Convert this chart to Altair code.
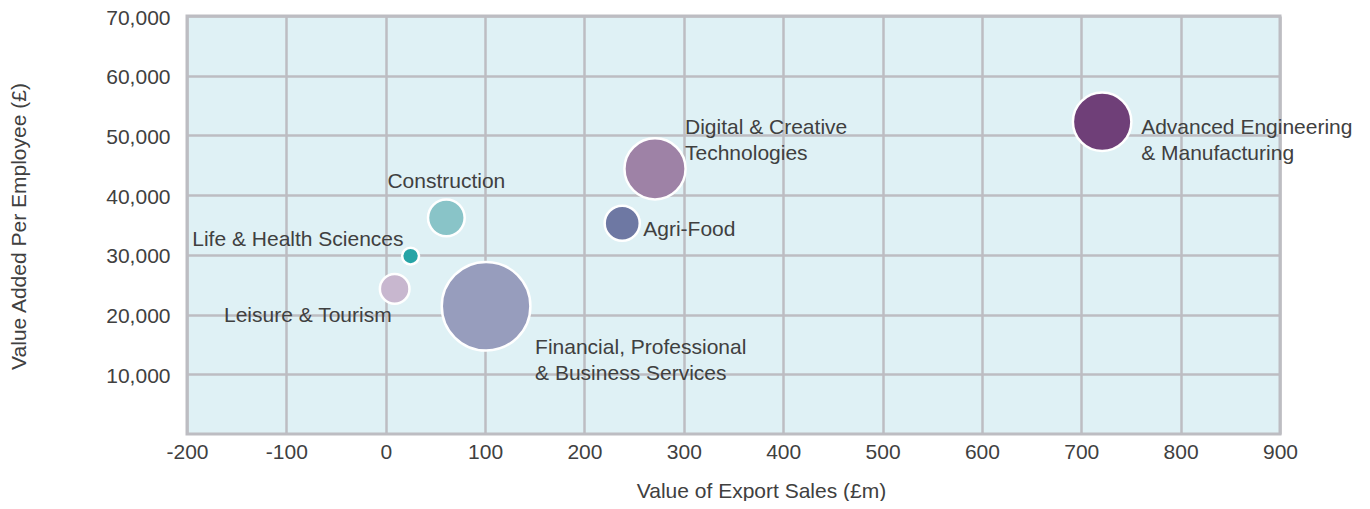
import altair as alt
import pandas as pd

sectors = [
    "Advanced Engineering\n& Manufacturing",
    "Digital & Creative\nTechnologies",
    "Construction",
    "Life & Health Sciences",
    "Leisure & Tourism",
    "Financial, Professional\n& Business Services",
    "Agri-Food",
]
export_sales = [721, 271, 61, 25, 9, 101, 238]
value_added = [52300, 44400, 36200, 29800, 24300, 21400, 35300]
bubble_size = [1089, 1190, 428, 90, 279, 2500, 392]
colors = ["#6f3f78", "#9e82a6", "#89c4c8", "#26a4a6", "#c8b7cf", "#979dbd", "#6e78a3"]

x_ticks = [-200, -100, 0, 100, 200, 300, 400, 500, 600, 700, 800, 900]
y_ticks = [10000, 20000, 30000, 40000, 50000, 60000, 70000]

df = pd.DataFrame({
    "sector": sectors,
    "x": export_sales,
    "y": value_added,
    "s": bubble_size,
})

# label placement styles (pixel offsets from bubble centre)
label_style = {
    sectors[0]: dict(align="left", dx=39, dy=6),
    sectors[1]: dict(align="left", dx=30, dy=-41),
    sectors[2]: dict(align="center", dx=0, dy=-36),
    sectors[3]: dict(align="right", dx=-7, dy=-16),
    sectors[4]: dict(align="right", dx=-3, dy=27),
    sectors[5]: dict(align="left", dx=49, dy=42),
    sectors[6]: dict(align="left", dx=21, dy=7),
}

FONT = "Liberation Sans"
FS = 21
TXT = "#404040"
GRID = "#bdbdc2"

xenc = alt.X("x:Q", scale=alt.Scale(domain=[-200, 900], nice=False, zero=False),
             axis=alt.Axis(values=x_ticks, title="Value of Export Sales (£m)",
                           labelExpr="datum.value + ''", ticks=False, domain=False,
                           labelFlush=False, labelOverlap=False,
                           gridColor=GRID, gridWidth=2.5, labelPadding=7,
                           labelFontSize=FS, titleFontSize=FS, titleFontWeight="normal",
                           labelColor=TXT, titleColor=TXT, labelFont=FONT, titleFont=FONT,
                           titleX=574, titleY=57, titleBaseline="middle"))
yenc = alt.Y("y:Q", scale=alt.Scale(domain=[0, 70000], nice=False),
             axis=alt.Axis(values=y_ticks, title="Value Added Per Employee (£)", format=",d",
                           ticks=False, domain=False, gridColor=GRID, gridWidth=2.5,
                           labelFlush=False, labelOverlap=False,
                           labelPadding=17, labelOffset=2, labelFontSize=FS, titleFontSize=FS,
                           titleFontWeight="normal", labelColor=TXT, titleColor=TXT,
                           labelFont=FONT, titleFont=FONT, titleX=-168, titleY=210,
                           titleBaseline="middle"))

base = alt.Chart(df)

points = base.mark_circle(opacity=1, stroke="white", strokeWidth=2.5).encode(
    x=xenc,
    y=yenc,
    size=alt.Size("s:Q", scale=alt.Scale(domain=[0, 2500], range=[0, 7854]), legend=None),
    color=alt.Color("sector:N", scale=alt.Scale(domain=sectors, range=colors), legend=None),
)

layers = [points]
for name, st in label_style.items():
    layers.append(
        base.transform_filter(alt.datum.sector == name)
        .mark_text(font=FONT, fontSize=FS, color=TXT, baseline="middle",
                   lineBreak="\n", lineHeight=26, **st)
        .encode(x="x:Q", y="y:Q", text="sector:N")
    )

chart = alt.layer(*layers).properties(
    width=1093, height=418,
    autosize=alt.AutoSizeParams(type="none"),
    padding={"left": 179, "top": 8, "right": 82, "bottom": 67},
).configure_view(
    fill="#dff1f5", stroke=GRID, strokeWidth=3
)

chart.save("out.html", embed_options={"renderer": "svg", "actions": False})
